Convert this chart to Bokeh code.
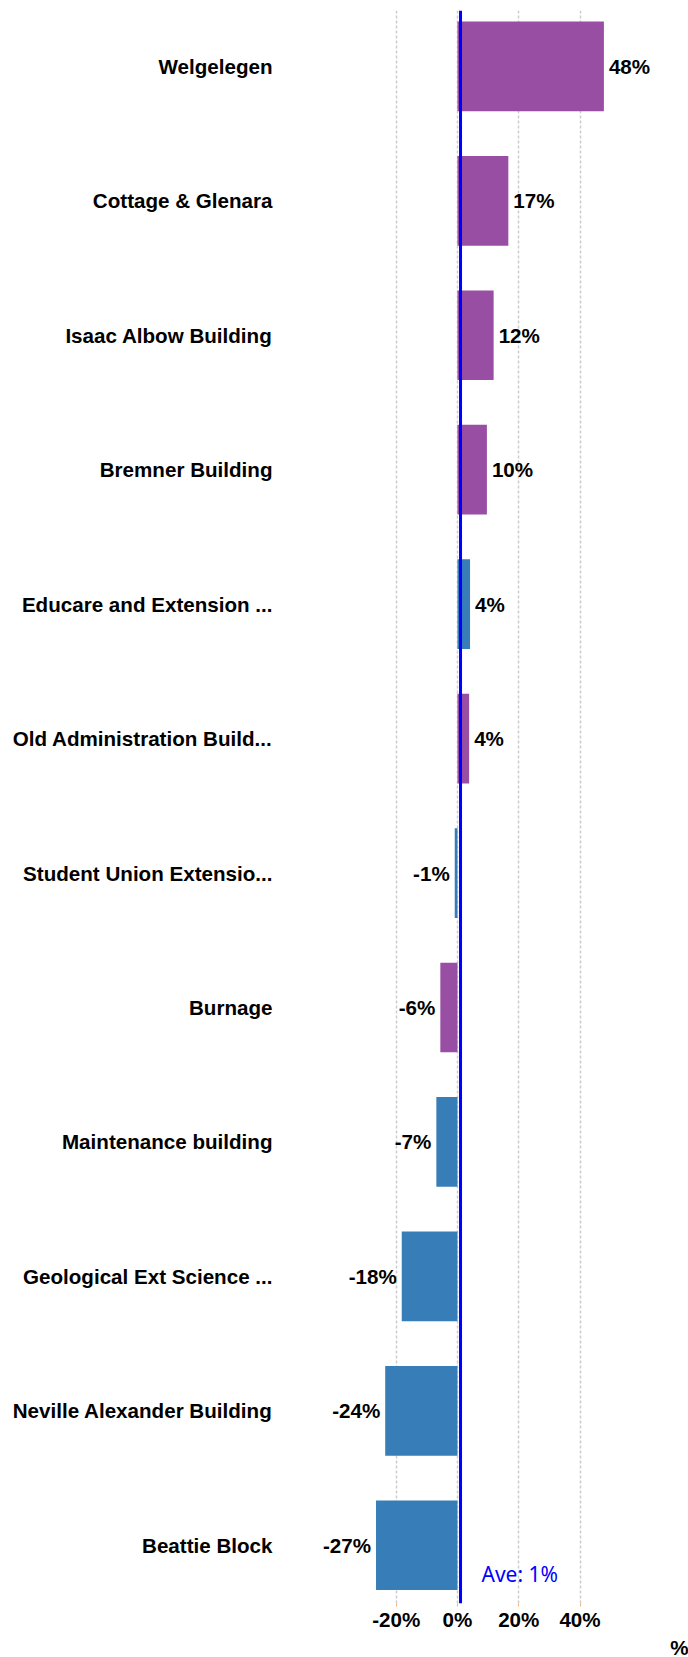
from bokeh.plotting import figure
from bokeh.models import Range1d, FixedTicker, PrintfTickFormatter, Span, Label, ColumnDataSource, Title
from bokeh.core.properties import value
from bokeh.embed import file_html
from bokeh.resources import INLINE

# ---- data ----
categories = ["Welgelegen", "Cottage & Glenara", "Isaac Albow Building", "Bremner Building",
              "Educare and Extension ...", "Old Administration Build...", "Student Union Extensio...",
              "Burnage", "Maintenance building", "Geological Ext Science ...",
              "Neville Alexander Building", "Beattie Block"]
values = [47.8, 16.6, 11.8, 9.6, 4.1, 3.8, -0.9, -5.6, -6.9, -18.2, -23.6, -26.6]
groups = ["P", "P", "P", "P", "B", "P", "B", "P", "B", "B", "B", "B"]
x_ticks = [-20, 0, 20, 40]
axis_title = "%"

palette = {"P": "#984EA3", "B": "#377EB8"}
average = sum(values) / len(values)

idx = list(range(len(categories)))
src = ColumnDataSource(dict(
    y=idx,
    v=values,
    color=[palette[g] for g in groups],
    lbl=[f"{round(v):d}%" for v in values],
    align=["left" if v >= 0 else "right" for v in values],
    xoff=[5 if v >= 0 else -5 for v in values],
))

p = figure(frame_width=406, frame_height=1593, output_backend="svg", toolbar_location=None,
           x_range=Range1d(-57.13, 75.42), y_range=Range1d(11.433, -0.4154),
           min_border_left=282, min_border_right=0, min_border_top=10, min_border_bottom=0)
p.outline_line_color = None
p.background_fill_color = "white"

p.hbar(y="y", left=0, right="v", height=0.667, color="color", line_color=None, source=src)

p.text(x="v", y="y", text="lbl", text_align="align", x_offset="xoff", text_baseline="middle",
       text_font=value("Liberation Sans"), text_font_style="bold", text_font_size="20.6px",
       text_color="black", source=src)

p.add_layout(Span(location=average, dimension="height", line_color="#0000FF", line_width=3))

p.add_layout(Label(x=average, y=11.217, x_offset=21, text=f"Ave: {round(average):d}%",
                   text_color="#0000FF", text_font="Noto Sans", text_font_size="21px",
                   text_baseline="middle", text_align="left"))

p.add_layout(Title(text=axis_title, align="right", offset=0, standoff=0, text_color="black",
                   text_font="Liberation Sans", text_font_style="bold", text_font_size="20.6px",
                   text_line_height=1.0),
             "below")

# x axis
p.xaxis.ticker = FixedTicker(ticks=x_ticks)
p.xaxis.formatter = PrintfTickFormatter(format="%d%%")
p.xaxis.axis_line_color = None
p.xaxis.major_tick_line_color = "#f5b27a"
p.xaxis.major_tick_out = 3
p.xaxis.major_tick_in = 0
p.xaxis.minor_tick_line_color = None
p.xaxis.major_label_standoff = 1
p.xaxis.major_label_text_font = "Liberation Sans"
p.xaxis.major_label_text_font_style = "bold"
p.xaxis.major_label_text_font_size = "20.6px"
p.xaxis.major_label_text_color = "black"

# y axis
p.yaxis.ticker = FixedTicker(ticks=idx)
p.yaxis.major_label_overrides = {i: c for i, c in zip(idx, categories)}
p.yaxis.axis_line_color = None
p.yaxis.major_tick_line_color = None
p.yaxis.minor_tick_line_color = None
p.yaxis.major_tick_out = 0
p.yaxis.major_tick_in = 0
p.yaxis.major_label_standoff = 10
p.yaxis.major_label_text_font = "Liberation Sans"
p.yaxis.major_label_text_font_style = "bold"
p.yaxis.major_label_text_font_size = "20.6px"
p.yaxis.major_label_text_color = "black"

p.ygrid.visible = False
p.xgrid.grid_line_color = "#cccccc"
p.xgrid.grid_line_dash = "3 2"
p.xgrid.grid_line_width = 1.5

open("out.html", "w").write(file_html(p, INLINE))
